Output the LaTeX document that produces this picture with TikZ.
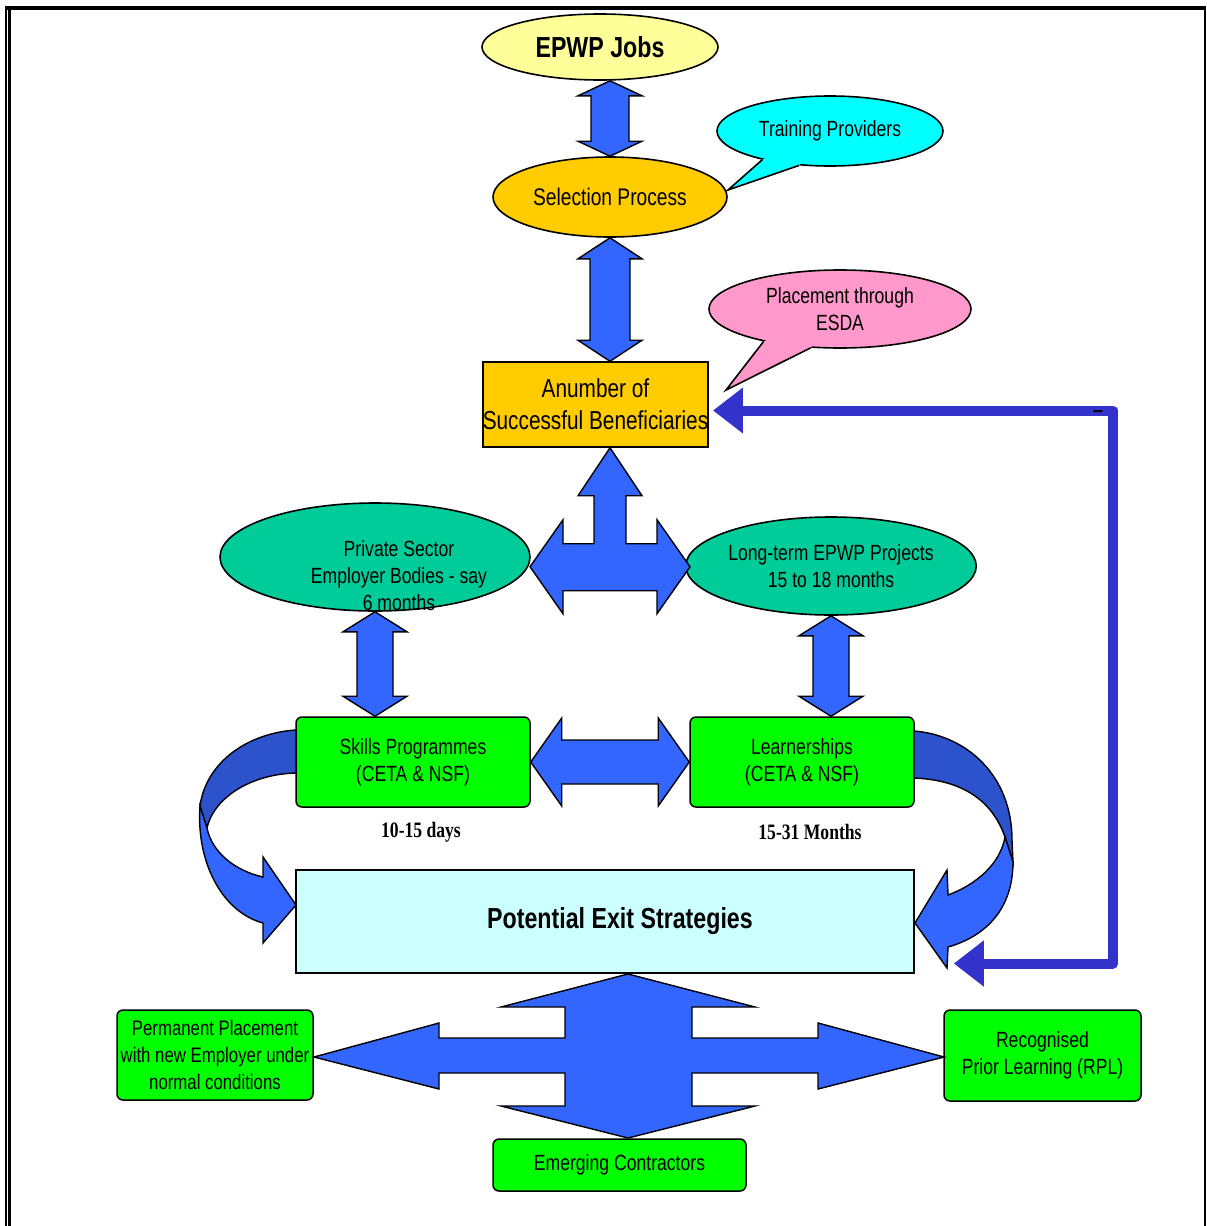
\documentclass[tikz,border=0pt]{standalone}
\usepackage{fontspec}
\setmainfont[FakeStretch=0.8]{Liberation Sans}
\newfontfamily\labserif[FakeStretch=0.8]{Liberation Serif}
\usetikzlibrary{shapes.geometric,arrows.meta,calc}
\definecolor{epwpY}{HTML}{FFFF99}
\definecolor{selO}{HTML}{FFCC00}
\definecolor{tpC}{HTML}{00FFFF}
\definecolor{esdaP}{HTML}{FF99CC}
\definecolor{tealG}{HTML}{00CC99}
\definecolor{boxgreen}{HTML}{00FF00}
\definecolor{exitC}{HTML}{CCFFFF}
\definecolor{arrowblue}{HTML}{3366FF}
\definecolor{bandblue}{HTML}{2C52CC}
\definecolor{fbblue}{HTML}{3333CC}
\newcommand\fsz[2]{\fontsize{#1}{#2}\selectfont}
% vertical double block arrow: #1 top point, #2 bottom point, #3 head half width, #4 shaft half width, #5 head length
\newcommand\vdbl[5]{\draw[blk] let \p1=(#1), \p2=(#2) in
 (\x1,\y1) -- (\x1+#3pt,\y1-#5pt) -- (\x1+#4pt,\y1-#5pt) -- (\x1+#4pt,\y2+#5pt) -- (\x1+#3pt,\y2+#5pt) -- (\x1,\y2)
 -- (\x1-#3pt,\y2+#5pt) -- (\x1-#4pt,\y2+#5pt) -- (\x1-#4pt,\y1-#5pt) -- (\x1-#3pt,\y1-#5pt) -- cycle;}
% horizontal double block arrow
\newcommand\hdbl[5]{\draw[blk] let \p1=(#1), \p2=(#2) in
 (\x1,\y1) -- (\x1+#5pt,\y1+#3pt) -- (\x1+#5pt,\y1+#4pt) -- (\x2-#5pt,\y1+#4pt) -- (\x2-#5pt,\y1+#3pt) -- (\x2,\y1)
 -- (\x2-#5pt,\y1-#3pt) -- (\x2-#5pt,\y1-#4pt) -- (\x1+#5pt,\y1-#4pt) -- (\x1+#5pt,\y1-#3pt) -- cycle;}
\begin{document}
\begin{tikzpicture}[x=1pt,y=-1pt,
  ell/.style={ellipse,draw=black,line width=1.6pt,inner sep=0pt,align=center},
  boxr/.style={rectangle,draw=black,line width=1.5pt,inner sep=0pt,align=center},
  gbox/.style={boxr,rounded corners=6pt,fill=boxgreen},
  blk/.style={draw=black,line width=1.4pt,fill=arrowblue,line join=miter},
  tailedge/.style={draw=black,line width=1.6pt,line join=miter},
  fb/.style={draw=fbblue,line width=10pt,line join=round,
     {Triangle[length=30pt,width=44pt]}-{Triangle[length=30pt,width=44pt]}},
  lbl/.style={font=\fsz{22}{27}},
  dayl/.style={font=\labserif\bfseries\fsz{22}{26}}
]
\useasboundingbox (0,0) rectangle (1207,1226);
% page border
\fill[black] (5,5.5) rectangle (1206,10);
\draw[line width=1.5pt] (5.8,5.5) -- (5.8,1226);
\draw[line width=2.8pt] (9.4,8) -- (9.4,1226);
\draw[line width=1.5pt] (1205,8) -- (1205,1226);

% nodes
\node[ell,fill=epwpY,minimum width=236pt,minimum height=66pt,font=\bfseries\fsz{29}{32}] (epwp) at (600,47) {EPWP Jobs};
\node[ell,fill=selO,minimum width=234pt,minimum height=80pt,font=\fsz{24}{28}] (sel) at (610,197) {Selection Process};
\node[ell,fill=tpC,minimum width=226pt,minimum height=70pt,lbl] (tp) at (830,131) {Training Providers};
\node[ell,fill=esdaP,minimum width=262pt,minimum height=78pt,lbl] (esda) at (840,309) {Placement through\\ESDA};
\node[boxr,fill=selO,minimum width=225pt,minimum height=85pt,font=\fsz{26}{32}] (benef) at (595.5,404.5) {Anumber of\\Successful Beneficiaries};
\node[ell,fill=tealG,minimum width=310pt,minimum height=108pt] (ps) at (375,557) {};
\node[lbl,align=center] (pstxt) at (399,576) {Private Sector\\Employer Bodies - say\\6 months};
\node[ell,fill=tealG,minimum width=282pt,minimum height=98pt,lbl] (lt) at (831,566) {Long-term EPWP Projects\\15 to 18 months};
\node[gbox,minimum width=234pt,minimum height=90pt,lbl] (skills) at (413,762) {Skills Programmes\\(CETA \& NSF)};
\node[gbox,minimum width=224pt,minimum height=90pt,lbl] (learn) at (802,762) {Learnerships\\(CETA \& NSF)};
\node[dayl] (d1) at (421,832) {10-15 days};
\node[dayl] (d2) at (810,832) {15-31 Months};
\node[boxr,fill=exitC,minimum width=618pt,minimum height=103pt] (exit) at (605,921.5) {};
\node[font=\bfseries\fsz{29}{32}] (exittxt) at (620,921) {Potential Exit Strategies};
\node[gbox,minimum width=196pt,minimum height=90pt,font=\fsz{21}{27}] (perm) at (215,1055) {Permanent Placement\\with new Employer under\\normal conditions};
\node[gbox,minimum width=197pt,minimum height=91pt,lbl] (rpl) at (1042.5,1055.5) {Recognised\\Prior Learning (RPL)};
\node[gbox,minimum width=253pt,minimum height=52pt,lbl] (emerg) at (619.5,1165) {Emerging Contractors};

% callout tails
\coordinate (tptip) at (728,190);
\fill[tpC] ($(tp.center)!0.85!(tp.203)$) -- (tp.203) -- (tptip) -- (tp.228) -- ($(tp.center)!0.85!(tp.228)$) -- cycle;
\draw[tailedge] (tp.203) -- (tptip) -- (tp.228);
\coordinate (esdatip) at (726,390);
\fill[esdaP] ($(esda.center)!0.85!(esda.203)$) -- (esda.203) -- (esdatip) -- (esda.233) -- ($(esda.center)!0.85!(esda.233)$) -- cycle;
\draw[tailedge] (esda.203) -- (esdatip) -- (esda.233);

% vertical double arrows
\vdbl{sel.north |- epwp.south}{sel.north}{32}{19}{15}
\vdbl{sel.south}{sel.south |- benef.north}{32}{20}{21}
\vdbl{ps.south}{ps.south |- skills.north}{32}{18}{20}
\vdbl{lt.south}{lt.south |- learn.north}{32}{18}{20}
% horizontal double arrow
\hdbl{skills.east}{learn.west}{44}{22}{31}

% three-way arrow
\begin{scope}[shift={(sel.south |- benef.south)}]
\draw[blk] (0,0) -- (32,48) -- (16,48) -- (16,96) -- (47,96) -- (47,72) -- (80,119) -- (47,166) -- (47,143)
 -- (-47,143) -- (-47,166) -- (-80,119) -- (-47,72) -- (-47,96) -- (-16,96) -- (-16,48) -- (-32,48) -- cycle;
\end{scope}

% four-way arrow
\coordinate (xc) at (628,1057);
\begin{scope}[shift={(xc)}]
\draw[blk] (0,-83) -- (127,-50) -- (64,-50) -- (64,-19) -- (190,-19) -- (190,-34) -- (316,0) -- (190,32) -- (190,16)
 -- (64,16) -- (64,49) -- (127,49) -- (0,81) -- (-127,49) -- (-63,49) -- (-63,16) -- (-189,16) -- (-189,32)
 -- (-314,0) -- (-189,-34) -- (-189,-19) -- (-63,-19) -- (-63,-50) -- (-127,-50) -- cycle;
\end{scope}

% curved arrows (left)
\draw[blk,fill=bandblue] (296,730) .. controls (248,733) and (206,762) .. (200,806) -- (207,828)
  .. controls (214,797) and (252,774) .. (296,773) -- cycle;
\draw[blk] (200,806) .. controls (196,862) and (222,912) .. (263,923) -- (263,943) -- (296,905) -- (263,857)
  -- (263,877) .. controls (236,871) and (212,853) .. (207,828) -- cycle;
% curved arrows (right)
\draw[blk,fill=bandblue] (914,731) .. controls (966,735) and (1012,775) .. (1012,840) -- (1013,862)
  -- (1005,837) .. controls (992,800) and (962,780) .. (914,778) -- cycle;
\draw[blk] (1013,862) .. controls (1013,905) and (990,935) .. (948,947) -- (947,968) -- (915,923) -- (947,870)
  -- (948,895) .. controls (975,885) and (1000,865) .. (1005,837) -- cycle;

% feedback connector
\coordinate (fbA) at ($(benef.east)+(4,6)$);
\coordinate (fbB) at ($(exit.east)+(39,42)$);
\coordinate (fbx) at (1113,0);
\draw[fb] (fbA) -- (fbA -| fbx) -- (fbB -| fbx) -- (fbB);
\node[font=\bfseries\fsz{22}{24},inner sep=0pt] (dash) at (1098,414) {--};
\end{tikzpicture}
\end{document}
